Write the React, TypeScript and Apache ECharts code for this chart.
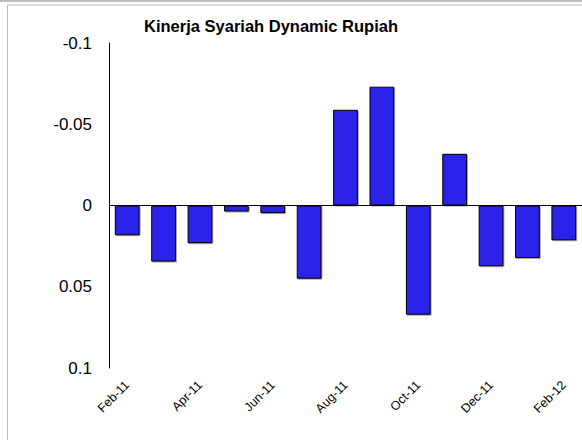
import React, { useEffect, useRef } from "react";
import * as echarts from "echarts";

const categories = ["Feb-11", "Mar-11", "Apr-11", "May-11", "Jun-11", "Jul-11", "Aug-11", "Sep-11", "Oct-11", "Nov-11", "Dec-11", "Jan-12", "Feb-12"];
const values = [0.0183, 0.0345, 0.0232, 0.0037, 0.0047, 0.045, -0.0589, -0.0731, 0.0672, -0.0318, 0.0374, 0.0323, 0.0214];
const yTickLabels = ["-0.1", "-0.05", "0", "0.05", "0.1"];
const yTickValues = [-0.1, -0.05, 0, 0.05, 0.1];
const title = "Kinerja Syariah Dynamic Rupiah";

export default function App() {
  const ref = useRef<HTMLDivElement>(null);
  useEffect(() => {
    document.body.style.margin = "0";
    const chart = echarts.init(ref.current!, null, { renderer: "svg" });
    chart.setOption({
      animation: false,
      backgroundColor: "#ffffff",
      title: {
        text: title,
        left: 266,
        top: 12,
        textAlign: "center",
        textStyle: { fontFamily: "'Liberation Sans', Arial, sans-serif", fontSize: 16.5, fontWeight: "bold", color: "#000" },
      },
      graphic: [
        { type: "line", shape: { x1: 0, y1: 1, x2: 582, y2: 1 }, style: { stroke: "#bdbdbd", lineWidth: 2 }, silent: true },
        { type: "rect", shape: { x: 7.5, y: 5, width: 600, height: 500 }, style: { fill: "none", stroke: "#bdbdbd", lineWidth: 1 }, silent: true },
      ],
      grid: { left: 109, top: 43, width: 474, height: 325, containLabel: false },
      xAxis: {
        type: "category",
        data: categories,
        axisLine: { show: false },
        axisTick: { show: false },
        axisLabel: {
          interval: 1,
          rotate: 45,
          margin: 15,
          fontFamily: "'Liberation Sans', Arial, sans-serif",
          fontSize: 12.5,
          color: "#000",
        },
        splitLine: { show: false },
      },
      yAxis: {
        type: "value",
        inverse: true,
        min: -0.1,
        max: 0.1,
        interval: 0.05,
        axisLine: { show: true, lineStyle: { color: "#000", width: 1 } },
        axisTick: { show: false },
        splitLine: { show: false },
        axisLabel: {
          margin: 17,
          fontFamily: "'Liberation Sans', Arial, sans-serif",
          fontSize: 17,
          color: "#000",
          formatter: (v: number) => {
            const i = yTickValues.findIndex((t) => Math.abs(t - v) < 1e-9);
            return i >= 0 ? yTickLabels[i] : "";
          },
        },
      },
      series: [
        {
          type: "bar",
          data: values,
          barCategoryGap: "32%",
          itemStyle: {
            color: "#2c24e8",
            borderColor: "#000",
            borderWidth: 1,
            shadowColor: "rgba(0,0,0,0.35)",
            shadowOffsetX: 1,
            shadowOffsetY: 1,
            shadowBlur: 0,
          },
          markLine: {
            silent: true,
            symbol: "none",
            label: { show: false },
            lineStyle: { color: "#000", width: 1, type: "solid" },
            data: [{ yAxis: 0 }],
          },
        },
      ],
    });
    return () => chart.dispose();
  }, []);
  return <div ref={ref} style={{ width: 582, height: 440 }} />;
}
